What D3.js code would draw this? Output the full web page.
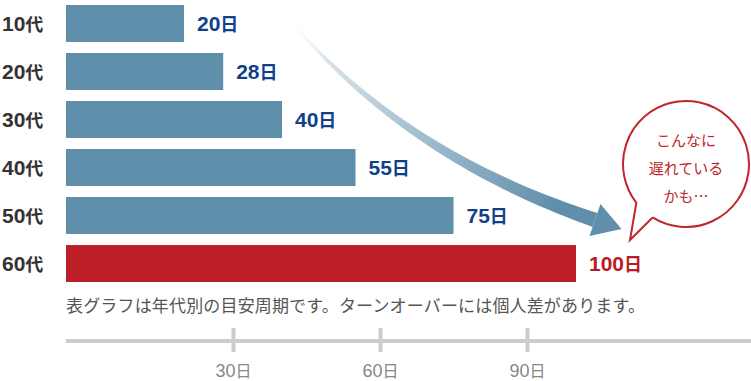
<!DOCTYPE html>
<html lang="ja">
<head>
<meta charset="utf-8">
<title>年代別ターンオーバー周期</title>
<script src="https://d3js.org/d3.v7.min.js"></script>
<style>
  html, body { margin: 0; padding: 0; background: #fff; }
  svg { display: block; font-family: "Noto Sans CJK JP", "Noto Sans", sans-serif; }
  .num { font-family: "Liberation Sans", Arial, sans-serif; }
  .jp { font-family: "Noto Sans CJK JP", sans-serif; }
</style>
</head>
<body>
<div id="chart"></div>
<script>
/* global d3 */

// data
var ages = ["10", "20", "30", "40", "50", "60"];
var ageUnit = "代";
var days = [20, 28, 40, 55, 75, 100];
var barColors = ["#5f8fab", "#5f8fab", "#5f8fab", "#5f8fab", "#5f8fab", "#bc1f28"];
var labelColors = ["#123f8c", "#123f8c", "#123f8c", "#123f8c", "#123f8c", "#b81c24"];
var tickValues = [30, 60, 90];
var unit = "日";
var note = "表グラフは年代別の目安周期です。ターンオーバーには個人差があります。";
var bubbleLines = ["こんなに", "遅れている", "かも…"];

var width = 751,
    height = 381,
    barLeft = 66;

var svg = d3.select("#chart").append("svg")
    .attr("width", width)
    .attr("height", height);

var x = d3.scaleLinear()
    .domain([0, 100])
    .range([86, 576]);

var y = d3.scaleBand()
    .domain(ages)
    .range([5, 282])
    .paddingInner(0.23)
    .paddingOuter(0);

// number + unit label, digits in a latin face, unit in the japanese face
function numLabel(sel, numSize, unitSize, numText, unitText) {
    sel.append("tspan")
        .attr("class", "num")
        .attr("font-size", numSize)
        .text(numText);
    sel.append("tspan")
        .attr("class", "jp")
        .attr("font-size", unitSize)
        .text(unitText);
}

// arrow (drawn first, under the labels)
var defs = svg.append("defs");
var grad = defs.append("linearGradient")
    .attr("id", "arrowGrad")
    .attr("gradientUnits", "userSpaceOnUse")
    .attr("x1", 282).attr("y1", 10)
    .attr("x2", 560).attr("y2", 205);
grad.append("stop").attr("offset", 0).attr("stop-color", "#ffffff").attr("stop-opacity", 0);
grad.append("stop").attr("offset", 0.2).attr("stop-color", "#d6e2ea");
grad.append("stop").attr("offset", 1).attr("stop-color", "#5f8fab");

var p0 = [284, 13], p1 = [400, 154], p2 = [595, 220];
function bez(t) {
    var a = (1 - t) * (1 - t), b = 2 * (1 - t) * t, c = t * t;
    return [a * p0[0] + b * p1[0] + c * p2[0], a * p0[1] + b * p1[1] + c * p2[1]];
}
function tangent(t) {
    var dx = 2 * (1 - t) * (p1[0] - p0[0]) + 2 * t * (p2[0] - p1[0]),
        dy = 2 * (1 - t) * (p1[1] - p0[1]) + 2 * t * (p2[1] - p1[1]),
        l = Math.sqrt(dx * dx + dy * dy);
    return [dx / l, dy / l];
}
var left = [], right = [];
d3.range(0, 1.0001, 0.02).forEach(function(t) {
    var p = bez(t), d = tangent(t), w = (0.7 + 6.6 * t);
    left.push([p[0] + d[1] * w, p[1] - d[0] * w]);
    right.push([p[0] - d[1] * w, p[1] + d[0] * w]);
});
var body = left.concat(right.reverse());
svg.append("path")
    .attr("d", d3.line()(body) + "Z")
    .attr("fill", "url(#arrowGrad)");

var end = bez(1), dir = tangent(1);
var head = [
    [end[0] + dir[1] * 17, end[1] - dir[0] * 17],
    [end[0] + dir[0] * 28, end[1] + dir[1] * 28],
    [end[0] - dir[1] * 17, end[1] + dir[0] * 17]
];
svg.append("path")
    .attr("d", d3.line()(head) + "Z")
    .attr("fill", "#5f8fab");

// bars
svg.selectAll("rect.bar")
    .data(ages)
    .enter().append("rect")
    .attr("class", "bar")
    .attr("x", barLeft)
    .attr("y", function(d) { return y(d); })
    .attr("width", function(d, i) { return x(days[i]) - barLeft; })
    .attr("height", y.bandwidth())
    .attr("fill", function(d, i) { return barColors[i]; });

// category labels
svg.selectAll("text.age")
    .data(ages)
    .enter().append("text")
    .attr("class", "age")
    .attr("x", 2)
    .attr("y", function(d) { return y(d) + y.bandwidth() / 2 + 7.5; })
    .attr("font-weight", "bold")
    .attr("fill", "#333")
    .each(function(d) { numLabel(d3.select(this), 21, 18, d, ageUnit); });

// value labels
svg.selectAll("text.val")
    .data(ages)
    .enter().append("text")
    .attr("class", "val")
    .attr("x", function(d, i) { return x(days[i]) + 13; })
    .attr("y", function(d) { return y(d) + y.bandwidth() / 2 + 7.5; })
    .attr("font-weight", "bold")
    .attr("fill", function(d, i) { return labelColors[i]; })
    .each(function(d, i) { numLabel(d3.select(this), 21, 18, days[i], unit); });

// note
svg.append("text")
    .attr("x", barLeft)
    .attr("y", 312)
    .attr("font-size", 17)
    .attr("fill", "#555")
    .attr("textLength", 579)
    .attr("lengthAdjust", "spacing")
    .text(note);

// axis
var axisY = 341;
var axisG = svg.append("g")
    .attr("transform", "translate(0," + axisY + ")")
    .call(d3.axisBottom(x)
        .tickValues(tickValues)
        .tickSize(0)
        .tickFormat(""));
axisG.select(".domain").remove();
axisG.insert("line", ":first-child")
    .attr("x1", barLeft).attr("x2", width)
    .attr("stroke", "#cccccc")
    .attr("stroke-width", 4);
axisG.selectAll(".tick").append("line")
    .attr("y1", -13).attr("y2", 11)
    .attr("stroke", "#cccccc")
    .attr("stroke-width", 4);
axisG.selectAll(".tick text")
    .attr("y", 36)
    .attr("dy", null)
    .attr("fill", "#888")
    .each(function(d) { numLabel(d3.select(this), 18, 16, d, unit); });

// speech bubble
var bc = [686, 164], br = 63;
var a1 = 122 * Math.PI / 180, a2 = 142 * Math.PI / 180;
var tip = [630, 240];
var bubblePath = d3.path();
bubblePath.moveTo(bc[0] + br * Math.cos(a1), bc[1] + br * Math.sin(a1));
bubblePath.lineTo(tip[0], tip[1]);
bubblePath.lineTo(bc[0] + br * Math.cos(a2), bc[1] + br * Math.sin(a2));
bubblePath.arc(bc[0], bc[1], br, a2, a1 + 2 * Math.PI);
svg.append("path")
    .attr("d", bubblePath.toString())
    .attr("fill", "#fff")
    .attr("stroke", "#c0272d")
    .attr("stroke-width", 2)
    .attr("stroke-linejoin", "miter");

svg.selectAll("text.bubble")
    .data(bubbleLines)
    .enter().append("text")
    .attr("class", "bubble")
    .attr("x", bc[0])
    .attr("y", function(d, i) { return bc[1] - 23 + i * 28; })
    .attr("dy", "0.36em")
    .attr("text-anchor", "middle")
    .attr("font-size", 15)
    .attr("fill", "#c0272d")
    .text(function(d) { return d; });
</script>
</body>
</html>
